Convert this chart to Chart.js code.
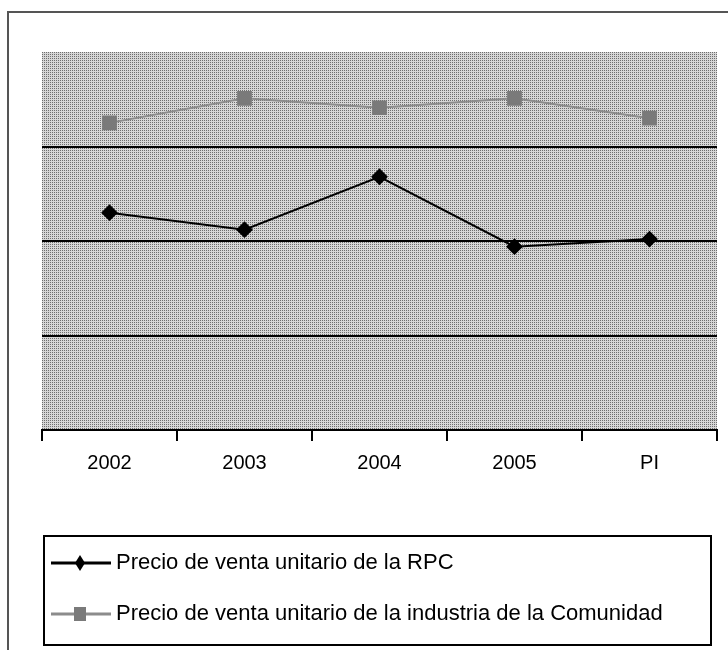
<!DOCTYPE html>
<html>
<head>
<meta charset="utf-8">
<script src="https://cdn.jsdelivr.net/npm/chart.js@4"></script>
<style>
  body { margin: 0; background: #fff; }
  #wrap { width: 728px; height: 650px; }
</style>
</head>
<body>
<div id="wrap"><canvas id="chart" width="728" height="650"></canvas></div>
<script>
const years = ['2002', '2003', '2004', '2005', 'PI'];
const rpcPrice = [2.30, 2.12, 2.68, 1.94, 2.02];
const communityPrice = [3.25, 3.51, 3.41, 3.51, 3.30];
const seriesNames = [
  'Precio de venta unitario de la RPC',
  'Precio de venta unitario de la industria de la Comunidad'
];

// dotted grey fill like the old printed chart
function makePattern(ctx) {
  const c = document.createElement('canvas');
  c.width = 2; c.height = 2;
  const p = c.getContext('2d');
  p.fillStyle = '#d6d6d6';
  p.fillRect(0, 0, 2, 2);
  p.fillStyle = '#6e6e6e';
  p.fillRect(0, 0, 1, 1);
  return ctx.createPattern(c, 'repeat');
}

const framePlugin = {
  id: 'frame',
  beforeDraw(chart) {
    const { ctx, chartArea: a } = chart;
    ctx.save();
    ctx.fillStyle = makePattern(ctx);
    ctx.fillRect(a.left, a.top, a.right - a.left, a.bottom - a.top);
    // outer frame (top and left)
    ctx.strokeStyle = '#555';
    ctx.lineWidth = 2;
    ctx.beginPath();
    ctx.moveTo(8, 650);
    ctx.lineTo(8, 12);
    ctx.lineTo(728, 12);
    ctx.stroke();
    ctx.restore();
  },
  afterDraw(chart) {
    const ctx = chart.ctx;
    ctx.save();
    ctx.strokeStyle = '#000';
    ctx.lineWidth = 2;
    ctx.strokeRect(44, 536, 667, 109);
    const rows = [563, 614];
    chart.data.datasets.forEach((ds, i) => {
      const y = rows[i];
      ctx.strokeStyle = ds.borderColor;
      ctx.lineWidth = 3;
      ctx.beginPath();
      ctx.moveTo(51, y);
      ctx.lineTo(111, y);
      ctx.stroke();
      ctx.fillStyle = ds.pointBackgroundColor;
      ctx.beginPath();
      if (ds.pointStyle === 'rectRot') {
        ctx.moveTo(80, y - 8);
        ctx.lineTo(85, y);
        ctx.lineTo(80, y + 8);
        ctx.lineTo(75, y);
      } else {
        ctx.rect(74, y - 7, 12, 14);
      }
      ctx.closePath();
      ctx.fill();
      ctx.fillStyle = '#000';
      ctx.font = '22px "Liberation Sans", Arial, sans-serif';
      ctx.textBaseline = 'middle';
      ctx.fillText(ds.label, 116, y);
    });
    ctx.restore();
  }
};

new Chart(document.getElementById('chart'), {
  type: 'line',
  data: {
    labels: years,
    datasets: [
      {
        label: seriesNames[0],
        data: rpcPrice,
        borderColor: '#000',
        borderWidth: 2,
        pointStyle: 'rectRot',
        pointRadius: 7,
        pointBackgroundColor: '#000',
        pointBorderColor: '#000',
        tension: 0
      },
      {
        label: seriesNames[1],
        data: communityPrice,
        borderColor: '#8c8c8c',
        borderWidth: 2,
        pointStyle: 'rect',
        pointRadius: 9,
        pointBackgroundColor: '#7a7a7a',
        pointBorderColor: '#7a7a7a',
        tension: 0
      }
    ]
  },
  options: {
    responsive: false,
    animation: false,
    layout: { padding: { left: 42, top: 52, right: 11, bottom: 180 } },
    plugins: {
      legend: { display: false },
      tooltip: { enabled: false }
    },
    scales: {
      x: {
        offset: true,
        grid: {
          offset: true,
          drawOnChartArea: false,
          drawTicks: true,
          tickLength: 11,
          color: '#000',
          lineWidth: 2
        },
        border: { display: true, color: '#000', width: 2 },
        ticks: {
          color: '#000',
          padding: 10,
          font: { family: '"Liberation Sans", Arial, sans-serif', size: 20 }
        },
        afterFit(scale) { scale.height = 40; }
      },
      y: {
        min: 0,
        max: 4,
        ticks: { display: false, stepSize: 1 },
        border: { display: false },
        grid: {
          drawTicks: false,
          lineWidth: 2,
          color: (c) => (c.tick && (c.tick.value === 0 || c.tick.value === 4)) ? 'rgba(0,0,0,0)' : '#000'
        },
        afterFit(scale) { scale.width = 0; }
      }
    }
  },
  plugins: [framePlugin]
});
</script>
</body>
</html>
